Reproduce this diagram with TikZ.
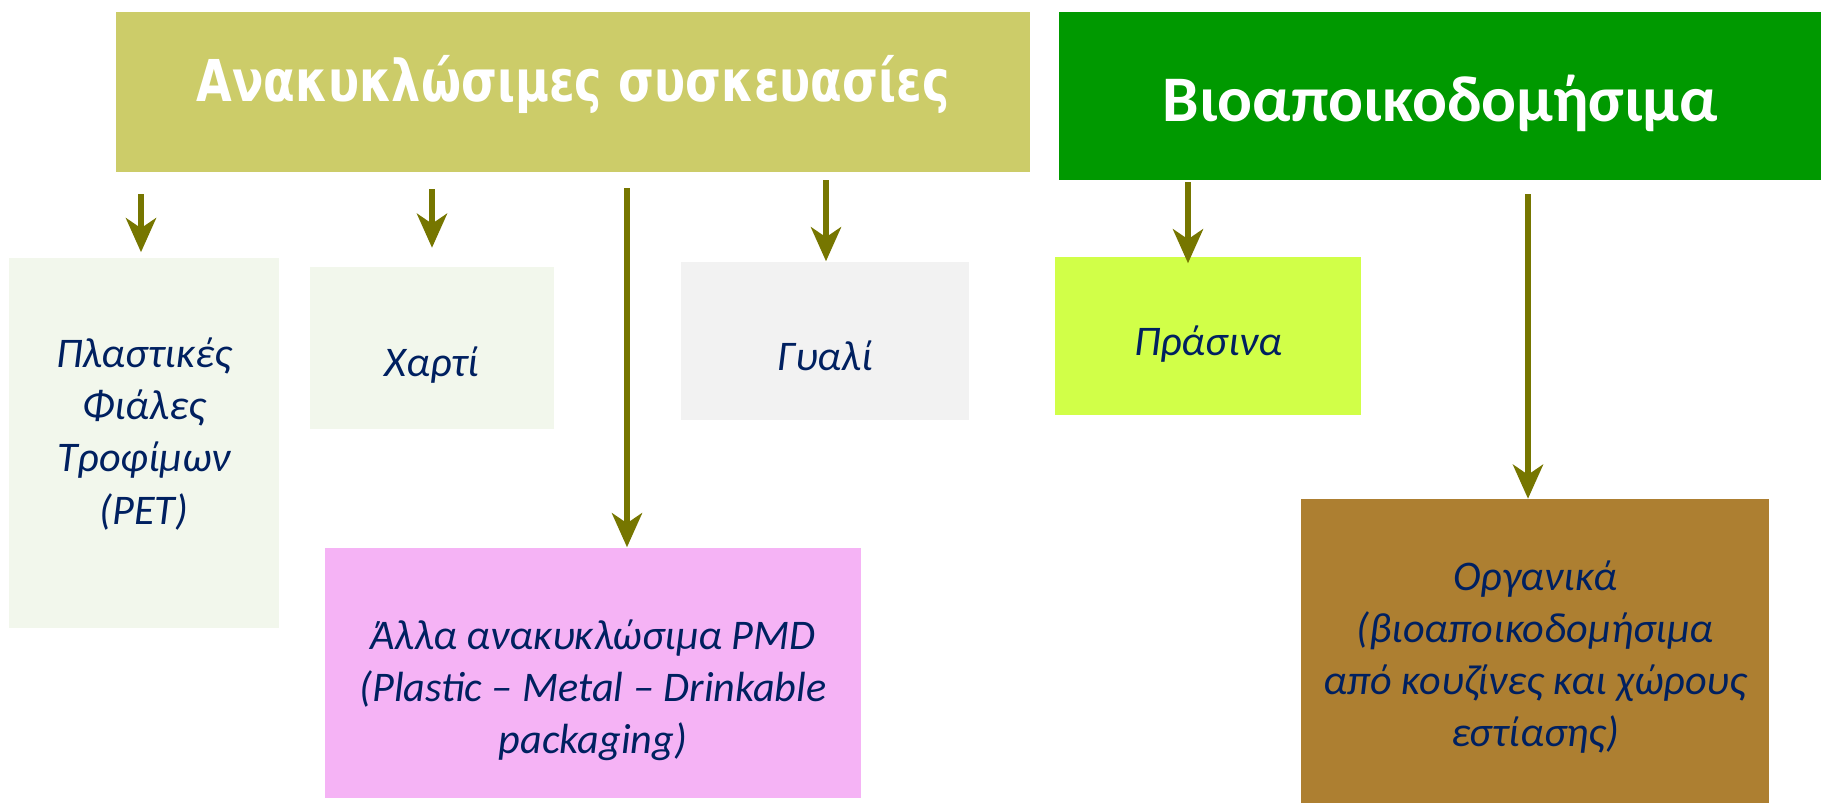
\documentclass[tikz,border=0pt]{standalone}
\usepackage{fontspec}
\setmainfont{Carlito}
\newfontfamily\headfont{DejaVu Sans}
\usetikzlibrary{arrows.meta}
\definecolor{recyc}{HTML}{CCCC69}
\definecolor{bio}{HTML}{009900}
\definecolor{arrowcol}{HTML}{767600}
\definecolor{paleg}{HTML}{F2F7EC}
\definecolor{paleh}{HTML}{F2F2F2}
\definecolor{lime}{HTML}{D1FF48}
\definecolor{pink}{HTML}{F5B3F5}
\definecolor{brown}{HTML}{AD7F31}
\definecolor{navy}{HTML}{002060}

\begin{document}
\begin{tikzpicture}[x=0.01cm,y=-0.01cm,
    box/.style={rectangle,inner sep=0pt},
    label/.style={align=center,text=navy,inner sep=0pt,
        font=\fontsize{12}{14.8}\selectfont\itshape},
    arr/.style={draw=arrowcol,line width=1.8pt,
        -{Stealth[length=0.34cm,width=0.3cm,inset=0.1cm]}}]

    \useasboundingbox (0,0) rectangle (1821,802);

    % headers
    \node[box,fill=recyc,minimum width=9.14cm,minimum height=1.60cm] (pack) at (573,92) {};
    \node[text=white] (packtext) at (573,84)
        {\headfont\bfseries\fontsize{16.4}{18}\selectfont\scalebox{0.8}[1]{Ανακυκλώσιμες συσκευασίες}};
    \node[box,fill=bio,minimum width=7.62cm,minimum height=1.68cm] (biod) at (1440,96) {};
    \node[text=white,font=\bfseries\fontsize{18.5}{20}\selectfont] (biodtext) at (1440,103) {Βιοαποικοδομήσιμα};

    % categories
    \node[box,fill=paleg,minimum width=2.70cm,minimum height=3.70cm] (pet) at (144,443) {};
    \node[label] (pettext) at (144,434) {Πλαστικές\\Φιάλες\\Τροφίμων\\(PET)};
    \node[box,fill=paleg,minimum width=2.43cm,minimum height=1.61cm] (paper) at (432,348) {};
    \node[label] (papertext) at (432,365) {Χαρτί};
    \node[box,fill=paleh,minimum width=2.88cm,minimum height=1.58cm] (glass) at (825,341) {};
    \node[label] (glasstext) at (825,356) {Γυαλί};
    \node[box,fill=lime,minimum width=3.06cm,minimum height=1.58cm] (green) at (1208,336) {};
    \node[label] (greentext) at (1208,344) {Πράσινα};
    \node[box,fill=pink,minimum width=5.36cm,minimum height=2.50cm] (pmd) at (593,673) {};
    \node[label] (pmdtext) at (593,690) {Άλλα ανακυκλώσιμα PMD\\(Plastic – Metal – Drinkable\\packaging)};
    \node[box,fill=brown,minimum width=4.68cm,minimum height=3.03cm] (organic) at (1535,651) {};
    \node[label] (organictext) at (1535,657) {Οργανικά\\(βιοαποικοδομήσιμα\\από κουζίνες και χώρους\\εστίασης)};

    % arrows
    \coordinate (s1) at (141,194);
    \coordinate (s2) at (432,189);
    \coordinate (s3) at (627,188);
    \coordinate (s4) at (826,180);
    \coordinate (s5) at (1188,182);
    \coordinate (s6) at (1528,194);
    \draw[arr,shorten >=0.05cm] (s1) -- (s1 |- pet.north);
    \draw[arr,shorten >=0.19cm] (s2) -- (s2 |- paper.north);
    \draw[arr] (s3) -- (s3 |- pmd.north);
    \draw[arr] (s4) -- (s4 |- glass.north);
    \draw[arr,shorten >=-0.07cm] (s5) -- (s5 |- green.north);
    \draw[arr] (s6) -- (s6 |- organic.north);

\end{tikzpicture}
\end{document}
